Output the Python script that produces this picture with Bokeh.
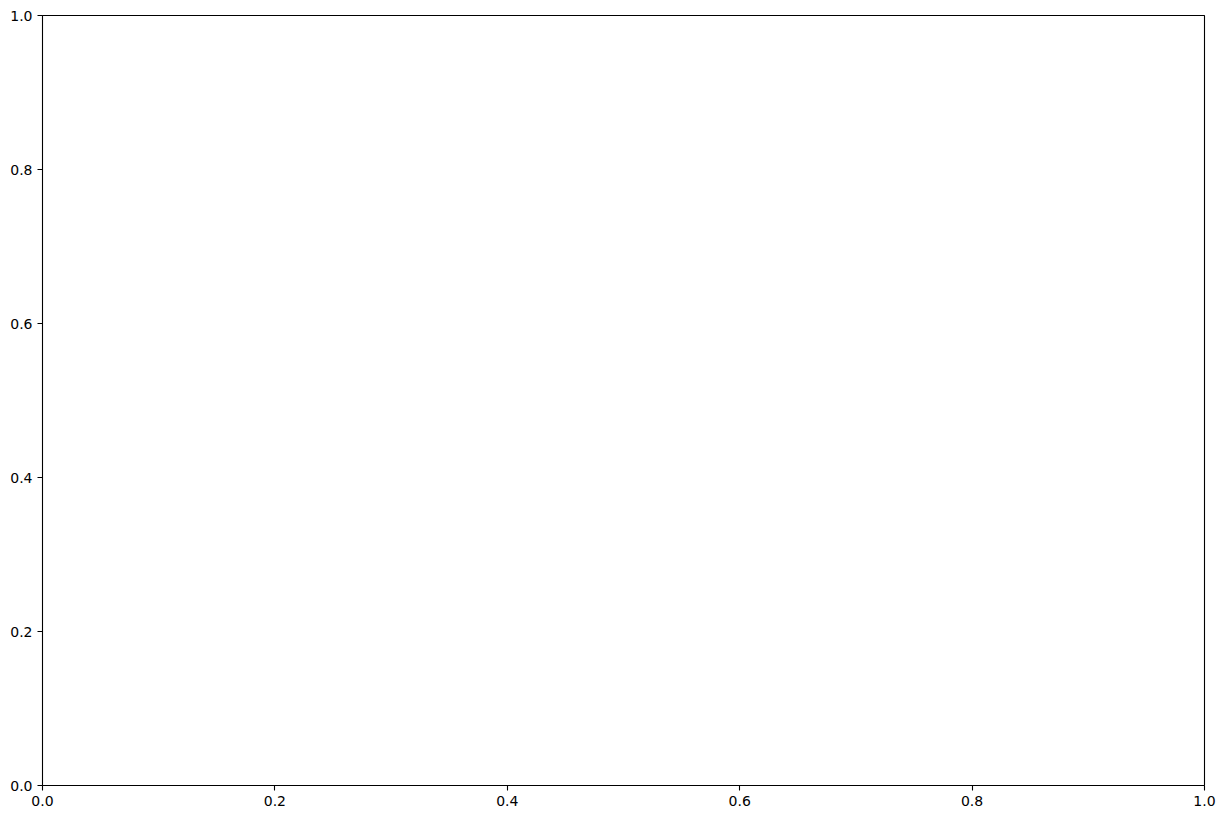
from bokeh.plotting import figure
from bokeh.models import Range1d, FixedTicker, PrintfTickFormatter
from bokeh.embed import file_html
from bokeh.resources import INLINE

x_ticks = [0.0, 0.2, 0.4, 0.6, 0.8, 1.0]
y_ticks = [0.0, 0.2, 0.4, 0.6, 0.8, 1.0]
x_limits = [0.0, 1.0]
y_limits = [0.0, 1.0]

p = figure(width=1217, height=811, output_backend="svg", toolbar_location=None,
           x_range=Range1d(*x_limits), y_range=Range1d(*y_limits),
           min_border_left=42, min_border_right=13, min_border_top=15, min_border_bottom=26)
p.grid.visible = False
p.outline_line_color = "black"
p.outline_line_width = 1.1
p.background_fill_color = "white"
p.border_fill_color = "white"

for ax, ticks in ((p.xaxis[0], x_ticks), (p.yaxis[0], y_ticks)):
    ax.ticker = FixedTicker(ticks=ticks)
    ax.formatter = PrintfTickFormatter(format="%.1f")
    ax.axis_line_color = None
    ax.major_tick_in = 0
    ax.major_tick_out = 5
    ax.major_tick_line_color = "black"
    ax.major_tick_line_width = 1.1
    ax.minor_tick_line_color = None
    ax.major_label_text_font = "DejaVu Sans"
    ax.major_label_text_font_size = "14px"
    ax.major_label_text_color = "black"
    ax.major_label_standoff = 5

p.scatter(x=[], y=[], size=0)

open("out.html", "w").write(file_html(p, INLINE))
